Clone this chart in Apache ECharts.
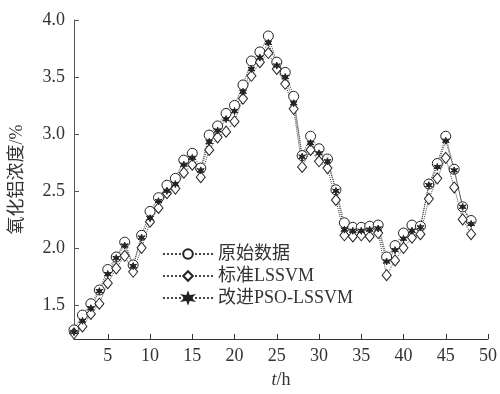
<!DOCTYPE html>
<html>
<head>
<meta charset="utf-8">
<script src="https://cdn.jsdelivr.net/npm/echarts@6/dist/echarts.min.js"></script>
<style>
html,body{margin:0;padding:0;background:#fff;}
#chart{width:500px;height:394px;}
</style>
</head>
<body>
<div id="chart"></div>
<script>
var hours = [1,2,3,4,5,6,7,8,9,10,11,12,13,14,15,16,17,18,19,20,21,22,23,24,
    25,26,27,28,29,30,31,32,33,34,35,36,37,38,39,40,41,42,43,44,45,46,47,48];
var origData = [1.28,1.41,1.51,1.63,1.81,1.92,2.05,1.85,2.11,2.32,2.44,2.55,2.61,2.77,2.83,2.70,
    2.99,3.07,3.18,3.25,3.43,3.64,3.72,3.86,3.63,3.54,3.33,2.81,2.98,2.87,2.78,2.51,
    2.22,2.18,2.18,2.19,2.20,1.92,2.02,2.13,2.20,2.19,2.56,2.74,2.98,2.69,2.36,2.24];//---原始数据
var lssvmData = [1.25,1.31,1.42,1.51,1.69,1.82,1.93,1.79,2.00,2.23,2.35,2.48,2.52,2.66,2.73,2.62,
    2.86,2.97,3.02,3.11,3.31,3.51,3.63,3.71,3.57,3.44,3.22,2.71,2.86,2.76,2.70,2.42,
    2.11,2.10,2.11,2.10,2.13,1.76,1.89,2.00,2.09,2.12,2.43,2.61,2.79,2.53,2.25,2.12];//---标准LSSVM
var psoData = [1.26,1.36,1.47,1.62,1.77,1.91,2.02,1.84,2.09,2.26,2.41,2.50,2.56,2.73,2.79,2.68,
    2.93,3.03,3.13,3.20,3.37,3.57,3.67,3.80,3.60,3.50,3.27,2.80,2.92,2.83,2.76,2.50,
    2.16,2.15,2.15,2.16,2.17,1.88,1.98,2.08,2.15,2.18,2.55,2.71,2.94,2.68,2.36,2.21];//---改进PSO-LSSVM
var seriesNames = ['原始数据','标准LSSVM','改进PSO-LSSVM'];
var xTicks = [5,10,15,20,25,30,35,40,45,50];
var yTicks = [1.5,2.0,2.5,3.0,3.5,4.0];

var fontFamily = '"Liberation Serif","Noto Sans CJK SC",serif';
var starPath = 'path://M0,-10L2,-3.5L8.7,-5L4,0L8.7,5L2,3.5L0,10L-2,3.5L-8.7,5L-4,0L-8.7,-5L-2,-3.5Z';

function pairs(vals){
    return hours.map(function(h, i){ return [h, vals[i]]; });
}

function makeSeries(name, vals, symbol, size, filled){
    return {
        type:'line',
        name:name,
        data:pairs(vals),
        symbol:symbol,
        symbolSize:size,
        showAllSymbol:true,
        lineStyle:{color:'#444', width:1, type:'dotted'},
        itemStyle:{
            color: filled ? '#222' : '#fff',
            borderColor:'#222',
            borderWidth:1
        },
        emphasis:{disabled:true},
        animation:false
    };
}

var myChart = echarts.init(document.getElementById('chart'));
var option = {
    backgroundColor:'#fff',
    textStyle:{fontFamily:fontFamily},
    grid:{left:72, right:10, top:20, bottom:49},
    legend:{
        orient:'vertical',
        left:157,
        top:240,
        itemWidth:50,
        itemHeight:12,
        itemGap:4,
        data:seriesNames,
        textStyle:{fontFamily:fontFamily, fontSize:18, color:'#333'}
    },
    xAxis:{
        type:'value',
        min:1,
        max:50,
        name:'{i|t}/h',
        nameLocation:'middle',
        nameGap:32,
        nameTextStyle:{
            fontFamily:fontFamily, fontSize:18, color:'#333',
            rich:{i:{fontStyle:'italic', fontFamily:fontFamily, fontSize:18, color:'#333'}}
        },
        axisLine:{lineStyle:{color:'#333', width:1}},
        axisTick:{inside:true, length:5, customValues:xTicks, lineStyle:{color:'#333'}},
        axisLabel:{customValues:xTicks, fontFamily:fontFamily, fontSize:18, color:'#333', margin:8},
        splitLine:{show:false}
    },
    yAxis:{
        type:'value',
        min:1.2,
        max:4.0,
        name:'氧化铝浓度/%',
        nameLocation:'middle',
        nameGap:48,
        nameTextStyle:{fontFamily:fontFamily, fontSize:18, color:'#333'},
        axisLine:{show:true, lineStyle:{color:'#555', width:1}},
        axisTick:{show:true, inside:true, length:5, customValues:yTicks, lineStyle:{color:'#555'}},
        axisLabel:{
            customValues:yTicks,
            fontFamily:fontFamily, fontSize:18, color:'#333', margin:9,
            formatter:function(v){ return v.toFixed(1); }
        },
        splitLine:{show:false}
    },
    series:[
        makeSeries(seriesNames[0], origData, 'circle', 10, false),
        makeSeries(seriesNames[1], lssvmData, 'diamond', [9, 11], false),
        makeSeries(seriesNames[2], psoData, starPath, 7, true)
    ],
    animation:false
};

myChart.setOption(option);
</script>
</body>
</html>
